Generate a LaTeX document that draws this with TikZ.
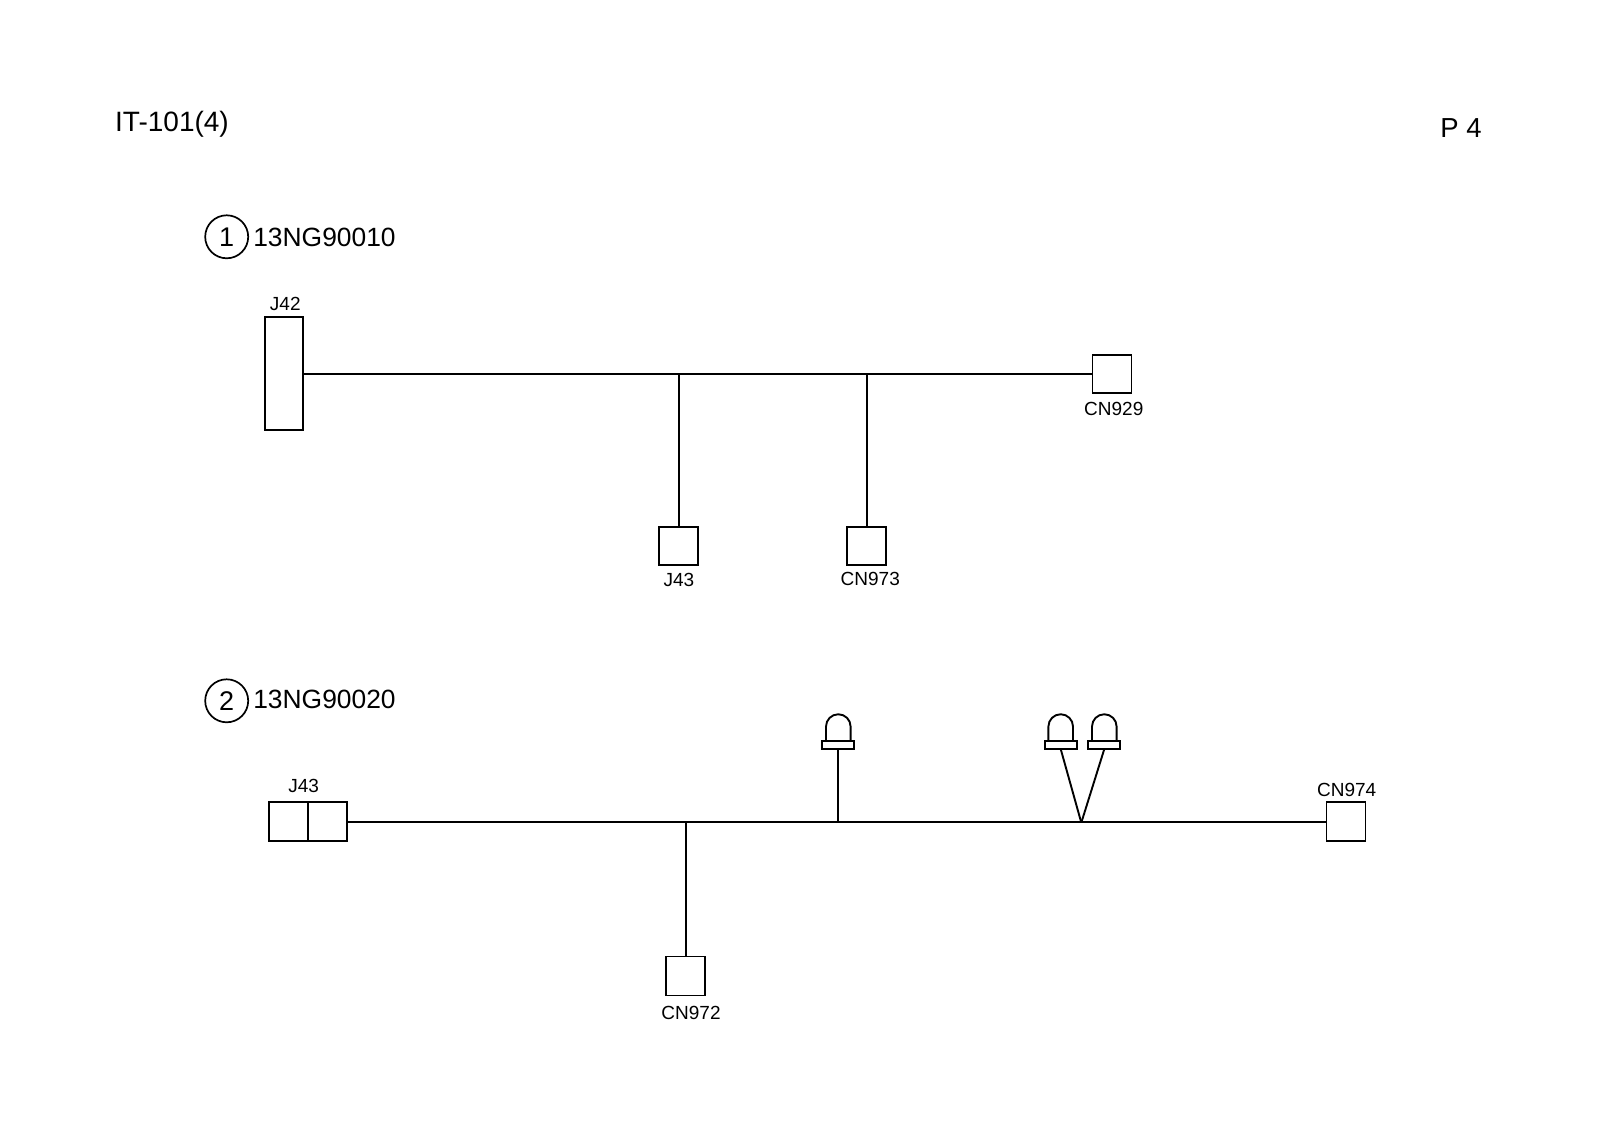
\documentclass[tikz,border=0pt]{standalone}
\usepackage{fontspec}
\setmainfont{Liberation Sans}
\usetikzlibrary{shapes}

\tikzset{
  conn/.style={rectangle, draw, line width=1.9pt, inner sep=0pt, outer sep=0pt},
  flange/.style={conn, minimum width=32pt, minimum height=8.5pt},
  num/.style={circle, draw, line width=1.7pt, minimum size=43pt, inner sep=0pt, font=\fontsize{27}{29}\selectfont},
  big/.style={inner sep=0pt, font=\fontsize{28}{31}\selectfont},
  pg/.style={inner sep=0pt, font=\fontsize{27.5}{31}\selectfont},
  mid/.style={inner sep=0pt, font=\fontsize{26.4}{29}\selectfont},
  small/.style={inner sep=0pt, font=\fontsize{19}{21}\selectfont},
  wire/.style={line width=1.9pt}
}

\begin{document}
\begin{tikzpicture}[x=1pt,y=-1pt]
  \useasboundingbox (0,0) rectangle (1600,1131);

  \path (172,124.5) node[big](title){IT-101(4)}
        (1461,128.5) node[pg](page){P 4};

  % first harness
  \path (226.7,236.8) node[num](no1){1}
        (324.5,237.4) node[mid](part1){13NG90010}
        (283.9,373.7) node[conn, minimum width=38pt, minimum height=113pt](j42){}
        (285.3,304) node[small](j42txt){J42}
        (1112,373.7) node[conn, minimum width=39pt, minimum height=38pt](cn929){}
        (1113.8,408.8) node[small](cn929txt){CN929}
        (678.8,545.8) node[conn, minimum width=39pt, minimum height=38pt](j43a){}
        (678.9,580) node[small](j43atxt){J43}
        (866.9,545.8) node[conn, minimum width=39pt, minimum height=38pt](cn973){}
        (870.3,578.7) node[small](cn973txt){CN973};
  \coordinate (jct1) at (678.8,373.7);
  \coordinate (jct2) at (866.9,373.7);

  \draw[wire](j42) -- (cn929);
  \draw[wire](jct1) -- (j43a);
  \draw[wire](jct2) -- (cn973);

  % second harness
  \path (226.7,700.8) node[num](no2){2}
        (324.5,699.5) node[mid](part2){13NG90020}
        (288.4,821.7) node[conn, minimum width=39.3pt, minimum height=39pt](j43l){}
        (327.7,821.7) node[conn, minimum width=39.3pt, minimum height=39pt](j43r){}
        (303.6,786.2) node[small](j43btxt){J43}
        (685.8,976) node[conn, minimum width=39pt, minimum height=39pt](cn972){}
        (691,1012.7) node[small](cn972txt){CN972}
        (1346,821.7) node[conn, minimum width=39pt, minimum height=39pt](cn974){}
        (1346.7,790) node[small](cn974txt){CN974}
        (838.3,744.8) node[flange](leda){}
        (1060.7,744.8) node[flange](ledb){}
        (1104.3,744.8) node[flange](ledc){};
  \coordinate (jct3) at (685.8,821.7);
  \coordinate (jct4) at (838.3,821.7);
  \coordinate (apex) at (1081.3,822.7);

  \draw[wire](j43r) -- (cn974);
  \draw[wire](jct3) -- (cn972);
  \draw[wire](jct4) -- (leda);
  \draw[wire](apex) -- (ledb.south);
  \draw[wire](apex) -- (ledc.south);

  % lamp domes
  \foreach \lamp in {leda,ledb,ledc}
    \draw[wire] (\lamp.north) ++(-12.3,0) -- ++(0,-14) arc[start angle=180, end angle=360, radius=12.3] -- ++(0,14);
\end{tikzpicture}
\end{document}
